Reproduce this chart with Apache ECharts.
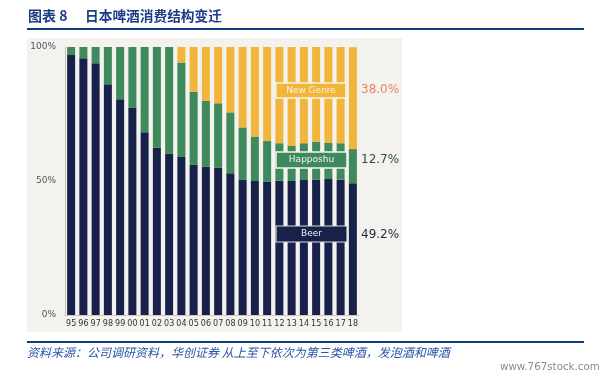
<!DOCTYPE html>
<html>
<head>
<meta charset="utf-8">
<script src="https://cdn.jsdelivr.net/npm/echarts@6/dist/echarts.min.js"></script>
<style>
html,body{margin:0;padding:0;background:#fff;}
#c{width:607px;height:378px;}
</style>
</head>
<body>
<div id="c"></div>
<script>
var years = ['95','96','97','98','99','00','01','02','03','04','05','06','07','08','09','10','11','12','13','14','15','16','17','18'];
var beer = [97.0,95.8,93.9,86.1,80.5,77.4,68.2,62.4,60.3,59.0,56.0,55.3,55.0,52.9,50.4,50.0,49.8,50.1,50.0,50.4,50.6,50.7,50.5,49.2];
var happoshu = [3.0,4.2,6.1,13.9,19.5,22.6,31.8,37.6,39.7,35.2,27.3,24.6,24.0,22.7,19.6,16.6,15.1,14.0,13.1,13.7,14.1,13.6,13.6,12.7];
var newGenre = [0,0,0,0,0,0,0,0,0,5.8,16.7,20.1,21.0,24.4,30.0,33.4,35.1,35.9,36.9,35.9,35.3,35.7,35.9,38.0];
var yTicks = ['0%','50%','100%'];
var seriesNames = ['Beer','Happoshu','New Genre'];

var C_BEER = '#17214a', C_HAP = '#3f8a5c', C_NEW = '#f1b53c';
var last = function(a){ return a[a.length-1].toFixed(1) + '%'; };

var chart = echarts.init(document.getElementById('c'), null, {renderer:'canvas'});
var option = {
  backgroundColor: '#ffffff',
  animation: false,
  grid: { left: 65, top: 47, width: 294, height: 268 },
  xAxis: {
    type: 'category',
    data: years,
    axisLine: { show: true, lineStyle: { color: '#cfcac0', width: 1 } },
    axisTick: { show: false },
    axisLabel: { color: '#333', fontSize: 8, margin: 5, interval: 0, fontFamily: 'DejaVu Sans' }
  },
  yAxis: {
    type: 'value',
    min: 0, max: 100, interval: 50,
    axisLine: { show: true, lineStyle: { color: '#c9c3b8', width: 1 } },
    axisTick: { show: false },
    splitLine: { show: false },
    axisLabel: {
      color: '#555', fontSize: 9, margin: 9, fontFamily: 'DejaVu Sans',
      formatter: function(v){ return yTicks[v/50]; }
    }
  },
  series: [
    { name: seriesNames[0], type: 'bar', stack: 's', data: beer, barWidth: 8, itemStyle: { color: C_BEER } },
    { name: seriesNames[1], type: 'bar', stack: 's', data: happoshu, barWidth: 8, itemStyle: { color: C_HAP } },
    { name: seriesNames[2], type: 'bar', stack: 's', data: newGenre, barWidth: 8, itemStyle: { color: C_NEW } }
  ],
  graphic: [
    { type: 'rect', z: -10, silent: true, shape: { x: 27, y: 38, width: 375, height: 294 }, style: { fill: '#f3f2ee' } },
    { type: 'text', z: 100, left: 28, top: 9, style: { text: '图表 8', font: 'bold 14px "Noto Sans CJK SC"', fill: '#1d3c86' } },
    { type: 'text', z: 100, left: 85, top: 9, style: { text: '日本啤酒消费结构变迁', font: 'bold 13.7px "Noto Sans CJK SC"', fill: '#1d3c86' } },
    { type: 'rect', z: 100, shape: { x: 27, y: 28, width: 557, height: 2 }, style: { fill: '#0f3c7c' } },
    { type: 'rect', z: 100, shape: { x: 27, y: 341, width: 557, height: 2 }, style: { fill: '#0f3c7c' } },
    { type: 'text', z: 100, left: 27, top: 346, style: { text: '资料来源：公司调研资料，华创证券 从上至下依次为第三类啤酒，发泡酒和啤酒', font: 'italic 12px "Noto Sans CJK SC"', fill: '#2a55a5' } },
    { type: 'text', z: 100, left: 500, top: 362, style: { text: 'www.767stock.com', font: '10.3px "DejaVu Sans"', fill: '#8a8a8a' } },

    { type: 'rect', z: 100, shape: { x: 276, y: 83, width: 70, height: 15 }, style: { fill: C_NEW, stroke: '#f7f3e8', lineWidth: 1.5 } },
    { type: 'text', z: 101, x: 311, y: 90.5, style: { text: seriesNames[2], font: '9px "DejaVu Sans"', fill: '#fbf0d6', align: 'center', verticalAlign: 'middle' } },
    { type: 'rect', z: 100, shape: { x: 276, y: 152, width: 71, height: 16 }, style: { fill: C_HAP, stroke: '#f3f2ee', lineWidth: 1.5 } },
    { type: 'text', z: 101, x: 311.5, y: 160, style: { text: seriesNames[1], font: '9px "DejaVu Sans"', fill: '#f2f5f2', align: 'center', verticalAlign: 'middle' } },
    { type: 'rect', z: 100, shape: { x: 276, y: 226, width: 71, height: 16 }, style: { fill: C_BEER, stroke: '#d9d9df', lineWidth: 1.2 } },
    { type: 'text', z: 101, x: 311.5, y: 234, style: { text: seriesNames[0], font: '9px "DejaVu Sans"', fill: '#eef0f6', align: 'center', verticalAlign: 'middle' } },

    { type: 'text', z: 100, x: 361, y: 90, style: { text: last(newGenre), font: '12px "DejaVu Sans"', fill: '#e8875a', verticalAlign: 'middle' } },
    { type: 'text', z: 100, x: 361, y: 159.5, style: { text: last(happoshu), font: '12px "DejaVu Sans"', fill: '#2f4f48', verticalAlign: 'middle' } },
    { type: 'text', z: 100, x: 361, y: 235, style: { text: last(beer), font: '12px "DejaVu Sans"', fill: '#1e2a40', verticalAlign: 'middle' } }
  ]
};
chart.setOption(option);
</script>
</body>
</html>
